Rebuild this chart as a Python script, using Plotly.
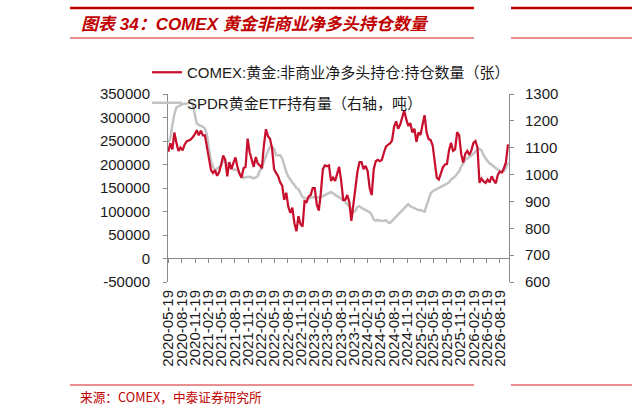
import plotly.graph_objects as go
import pandas as pd

# COMEX gold non-commercial net long positions (contracts), bi-weekly readings
comex_net_long = [
    227000, 245000, 232000, 268000, 246000, 229000, 236000, 230000, 242000, 249000,
    251000, 253000, 258000, 264000, 273000, 262000, 272000, 262000, 262000, 240000,
    215000, 188000, 182000, 188000, 176000, 184000, 200000, 219000, 210000, 175000,
    205000, 190000, 203000, 215000, 195000, 180000, 172000, 192000, 195000, 255000,
    226000, 210000, 195000, 216000, 202000, 198000, 192000, 240000, 275000, 260000,
    255000, 235000, 190000, 182000, 175000, 162000, 155000, 125000, 140000, 110000,
    97000, 108000, 75000, 58000, 90000, 73000, 68000, 122000, 120000, 132000,
    135000, 150000, 150000, 115000, 102000, 140000, 190000, 198000, 196000, 198000,
    165000, 172000, 165000, 180000, 195000, 165000, 125000, 125000, 135000, 120000,
    80000, 115000, 152000, 185000, 205000, 205000, 190000, 197000, 186000, 150000,
    135000, 190000, 207000, 210000, 207000, 210000, 225000, 238000, 242000, 245000,
    251000, 280000, 292000, 276000, 285000, 298000, 315000, 296000, 282000, 288000,
    268000, 276000, 248000, 268000, 263000, 285000, 305000, 268000, 254000, 252000,
    240000, 205000, 172000, 168000, 182000, 194000, 200000, 201000, 230000, 246000,
    229000, 232000, 269000, 262000, 222000, 204000, 223000, 229000, 220000, 230000,
    246000, 250000, 236000, 161000, 170000, 164000, 161000, 168000, 162000, 175000,
    166000, 160000, 178000, 185000, 183000, 192000, 205000, 243000,
]

# SPDR gold ETF holdings (tonnes, right axis)
spdr_holdings = [
    1120, 1135, 1185, 1225, 1250, 1255, 1258, 1262, 1264, 1264,
    1266, 1269, 1262, 1225, 1190, 1185, 1182, 1178, 1172, 1148,
    1095, 1050, 1028, 1017, 1022, 1027, 1035, 1052, 1048, 1040,
    1037, 1030, 1018, 1018, 1016, 1007, 998, 987, 990, 992,
    992, 989, 986, 989, 995, 1015, 1022, 1048, 1070, 1088,
    1102, 1104, 1095, 1072, 1072, 1072, 1060, 1033, 1010, 993,
    979, 970, 962, 950, 946, 930, 916, 913, 910, 912,
    915, 916, 916, 916, 916, 916, 920, 924, 928, 932,
    935, 930, 926, 922, 915, 910, 905, 897, 890, 882,
    873, 860, 865, 880, 882, 876, 872, 870, 865, 860,
    850, 832, 828, 831, 829, 827, 828, 830, 822, 820,
    828, 836, 844, 851, 858, 866, 873, 885, 890, 882,
    878, 874, 870, 868, 868, 866, 862, 885, 910, 930,
    938, 942, 946, 950, 954, 957, 961, 964, 970, 982,
    988, 993, 1003, 1012, 1030, 1045, 1055, 1060, 1064, 1071,
    1078, 1087, 1094, 1096, 1090, 1072, 1060, 1050, 1042, 1036,
    1031, 1025, 1016, 1012, 1010, 1012, 1025, 1045,
]

dates = pd.date_range("2020-05-19", periods=len(comex_net_long), freq="14D")

x_tick_labels = [
    "2020-05-19", "2020-08-19", "2020-11-19", "2021-02-19", "2021-05-19", "2021-08-19",
    "2021-11-19", "2022-02-19", "2022-05-19", "2022-08-19", "2022-11-19", "2023-02-19",
    "2023-05-19", "2023-08-19", "2023-11-19", "2024-02-19", "2024-05-19", "2024-08-19",
    "2024-11-19", "2025-02-19", "2025-05-19", "2025-08-19", "2025-11-19", "2026-02-19",
    "2026-05-19", "2026-08-19",
]
left_ticks = [-50000, 0, 50000, 100000, 150000, 200000, 250000, 300000, 350000]
left_tick_text = ["-50000", "0", "50000", "100000", "150000", "200000", "250000", "300000", "350000"]
right_ticks = [600, 700, 800, 900, 1000, 1100, 1200, 1300]

name_comex = "COMEX:黄金:非商业净多头持仓:持仓数量（张）"
name_spdr = "SPDR黄金ETF持有量（右轴，吨）"
title_text = "图表 34：COMEX 黄金非商业净多头持仓数量"
source_text = "来源：COMEX，中泰证券研究所"

FONT = "Liberation Sans, Arial, Noto Sans CJK SC, sans-serif"
RED = "#C8102E"
GRAY = "#C3C3C3"
AXIS = "#8A8A8A"
TXT = "#1a1a1a"
X_RANGE = ["2020-05-17", "2026-10-20"]

fig = go.Figure()
# red series: left scale (yaxis2 drawn on the left), overlay x2 carries the zero line
fig.add_trace(go.Scatter(
    x=dates, y=comex_net_long, name=name_comex, mode="lines",
    line=dict(color=RED, width=2.25), xaxis="x2", yaxis="y2",
    legendgroup="a",
))
# gray series: right scale (main yaxis on the right side)
fig.add_trace(go.Scatter(
    x=dates, y=spdr_holdings, name=name_spdr, mode="lines",
    line=dict(color=GRAY, width=2.5), xaxis="x", yaxis="y",
    legendgroup="b",
))

# plot area pixel geometry
L, R, T, B = 168, 509, 94, 282
W, H = 632, 415
def px(x):
    return (x - L) / (R - L)
def py(y):
    return (B - y) / (B - T)

fig.update_layout(
    width=W, height=H,
    margin=dict(l=L, r=W - R, t=T, b=H - B, autoexpand=False),
    paper_bgcolor="white", plot_bgcolor="white",
    font=dict(family=FONT, size=15, color=TXT),
    showlegend=True,
    legend=dict(
        x=px(147), y=py(56), xanchor="left", yanchor="top",
        bgcolor="rgba(0,0,0,0)", font=dict(size=15, color=TXT),
        tracegroupgap=8, traceorder="grouped",
    ),
    xaxis=dict(
        type="date", range=X_RANGE, tickvals=x_tick_labels, ticktext=x_tick_labels,
        tickangle=-90, ticks="", showline=False, showgrid=False, zeroline=False,
        tickfont=dict(size=15, color=TXT), ticklabelstandoff=4, anchor="y",
    ),
    xaxis2=dict(
        type="date", range=X_RANGE, overlaying="x", matches="x", anchor="free",
        position=py(258), tickvals=x_tick_labels, showticklabels=False,
        ticks="outside", ticklen=4, tickcolor=AXIS, showline=True, linecolor=AXIS,
        linewidth=1, showgrid=False, zeroline=False,
    ),
    yaxis=dict(
        range=[600, 1300], tickvals=right_ticks, side="right",
        anchor="x", ticks="outside", ticklen=4, tickcolor=AXIS, showline=True,
        linecolor=AXIS, linewidth=1, showgrid=False, zeroline=False,
        tickfont=dict(size=15, color=TXT), ticklabelstandoff=8,
    ),
    yaxis2=dict(
        range=[-50000, 350000], tickvals=left_ticks, ticktext=left_tick_text,
        overlaying="y", side="left", anchor="x",
        ticks="outside", ticklen=4, tickcolor=AXIS, showline=True, linecolor=AXIS,
        linewidth=1, showgrid=False, zeroline=False,
        tickfont=dict(size=15, color=TXT), ticklabelstandoff=10,
    ),
)

shapes = [
    # title bars
    dict(type="line", xref="paper", yref="paper", x0=px(70), x1=px(474), y0=py(8), y1=py(8),
         line=dict(color="#C00000", width=2.5)),
    dict(type="line", xref="paper", yref="paper", x0=px(511), x1=px(632), y0=py(8), y1=py(8),
         line=dict(color="#C00000", width=2.5)),
    dict(type="line", xref="paper", yref="paper", x0=px(70), x1=px(474), y0=py(38), y1=py(38),
         line=dict(color="#E06A6A", width=1.5)),
    dict(type="line", xref="paper", yref="paper", x0=px(511), x1=px(632), y0=py(38), y1=py(38),
         line=dict(color="#E06A6A", width=1.5)),
    # source bar
    dict(type="line", xref="paper", yref="paper", x0=px(70), x1=px(474), y0=py(385), y1=py(385),
         line=dict(color="#E06A6A", width=1.5)),
    dict(type="line", xref="paper", yref="paper", x0=px(511), x1=px(632), y0=py(385), y1=py(385),
         line=dict(color="#E06A6A", width=1.5)),
]
fig.update_layout(shapes=shapes)

fig.add_annotation(
    text="<b><i>" + title_text + "</i></b>", xref="paper", yref="paper",
    x=px(79), y=py(24), xanchor="left", yanchor="middle", showarrow=False,
    font=dict(family=FONT, size=17, color="#C00000"),
)
fig.add_annotation(
    text=source_text, xref="paper", yref="paper",
    x=px(78), y=py(396), xanchor="left", yanchor="middle", showarrow=False,
    font=dict(family="Noto Sans CJK SC, Liberation Sans, sans-serif", size=12.7, color="#C00000"),
)

fig.write_html(
    "out.html",
    config={"displayModeBar": False},
    post_script="document.body.style.margin='0';document.body.style.overflow='hidden';",
)
